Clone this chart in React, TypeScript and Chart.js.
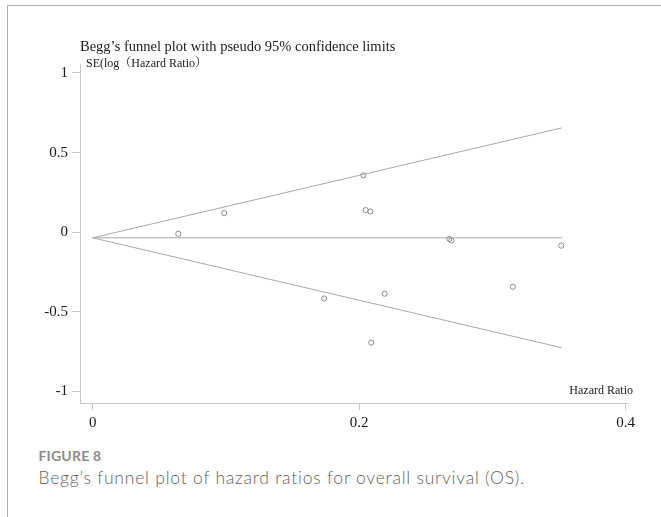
import React, { useEffect, useRef } from "react";
import { Chart, registerables } from "chart.js";

Chart.register(...registerables);

// ---- Data ----
const studyHR = [0.0643, 0.0987, 0.2031, 0.2049, 0.2084, 0.2677, 0.2692, 0.1738, 0.2191, 0.2091, 0.3517, 0.3153];
const studySE = [-0.01, 0.12, 0.357, 0.139, 0.13, -0.042, -0.052, -0.416, -0.386, -0.693, -0.084, -0.342];

const funnelX = [0, 0.352];
const upperLimit = [-0.035, 0.655];
const lowerLimit = [-0.035, -0.725];
const centerLine = [-0.035, -0.035];

const xTicks = [0, 0.2, 0.4];
const xTickLabels = ["0", "0.2", "0.4"];
const yTicks = [-1, -0.5, 0, 0.5, 1];
const yTickLabels = ["-1", "-0.5", "0", "0.5", "1"];

const titleText = "Begg\u2019s funnel plot with pseudo 95% confidence limits";
const yTitleText = "SE(log\uFF08Hazard Ratio\uFF09";
const xTitleText = "Hazard Ratio";
const figureLabel = "FIGURE 8";
const captionText = "Begg\u2019s funnel plot of hazard ratios for overall survival (OS).";

const SERIF = '"Liberation Serif", "Times New Roman", "Noto Serif CJK SC", "Noto Sans CJK SC", serif';

const textPlugin = {
  id: "plotTexts",
  afterDraw(chart: any) {
    const { ctx, chartArea } = chart;
    ctx.save();
    ctx.fillStyle = "#1a1a1a";
    ctx.textBaseline = "middle";
    ctx.textAlign = "left";
    ctx.font = `14.5px ${SERIF}`;
    ctx.fillText(titleText, chartArea.left, 47);
    ctx.font = `12px ${SERIF}`;
    ctx.fillText(yTitleText, chartArea.left + 6, 63.5);
    ctx.textAlign = "right";
    ctx.fillText(xTitleText, chartArea.right + 6, chartArea.bottom - 12);
    ctx.restore();
  },
};

export default function App() {
  const canvasRef = useRef<HTMLCanvasElement | null>(null);

  useEffect(() => {
    const canvas = canvasRef.current;
    if (!canvas) return;
    const lineStyle = {
      type: "line" as const,
      showLine: true,
      pointRadius: 0,
      borderColor: "#a8a8a8",
      borderWidth: 1,
      fill: false,
    };
    const chart = new Chart(canvas, {
      type: "scatter",
      data: {
        datasets: [
          { ...lineStyle, data: funnelX.map((x, i) => ({ x, y: upperLimit[i] })) },
          { ...lineStyle, data: funnelX.map((x, i) => ({ x, y: centerLine[i] })) },
          { ...lineStyle, data: funnelX.map((x, i) => ({ x, y: lowerLimit[i] })) },
          {
            type: "scatter",
            data: studyHR.map((x, i) => ({ x, y: studySE[i] })),
            pointRadius: 2.6,
            pointStyle: "circle",
            backgroundColor: "rgba(255,255,255,0)",
            borderColor: "#8a8a8a",
            borderWidth: 1,
          },
        ] as any,
      },
      options: {
        responsive: false,
        maintainAspectRatio: false,
        animation: false,
        layout: { padding: { top: 64, right: 34, bottom: 0, left: 0 } },
        plugins: {
          legend: { display: false },
          tooltip: { enabled: false },
          title: { display: false },
        },
        scales: {
          x: {
            type: "linear",
            min: -0.0095,
            max: 0.401,
            afterBuildTicks: (s: any) => {
              s.ticks = xTicks.map((v) => ({ value: v }));
            },
            afterFit: (s: any) => {
              s.height = 37;
            },
            grid: { drawOnChartArea: false, drawTicks: true, tickLength: 7, color: "#c8c8c8" },
            border: { color: "#c8c8c8" },
            ticks: {
              color: "#1a1a1a",
              font: { family: SERIF, size: 15 },
              padding: 4,
              maxRotation: 0,
              autoSkip: false,
              callback: (_v: any, i: number) => xTickLabels[i],
            },
          },
          y: {
            type: "linear",
            min: -1.072,
            max: 1.056,
            afterBuildTicks: (s: any) => {
              s.ticks = yTicks.map((v) => ({ value: v }));
            },
            afterFit: (s: any) => {
              s.width = 80;
            },
            grid: { drawOnChartArea: false, drawTicks: true, tickLength: 8, color: "#c8c8c8" },
            border: { color: "#c8c8c8" },
            ticks: {
              color: "#1a1a1a",
              font: { family: SERIF, size: 15 },
              padding: 4,
              autoSkip: false,
              callback: (_v: any, i: number) => yTickLabels[i],
            },
          },
        },
      } as any,
      plugins: [textPlugin],
    });
    return () => chart.destroy();
  }, []);

  return (
    <div style={{ position: "absolute", left: 0, top: 0, width: 661, height: 517, background: "#fff", overflow: "hidden" }}>
      <div
        style={{
          position: "absolute",
          left: 7,
          top: 5,
          right: 0,
          bottom: 0,
          borderTop: "1px solid #b0b0b0",
          borderLeft: "1px solid #b0b0b0",
        }}
      />
      <canvas
        ref={canvasRef}
        width={661}
        height={440}
        style={{ position: "absolute", left: 0, top: 0, width: 661, height: 440 }}
      />
      <div
        style={{
          position: "absolute",
          left: 38.5,
          top: 447,
          fontFamily: "Lato, 'Open Sans', sans-serif",
          fontWeight: 700,
          fontSize: 14,
          lineHeight: "18px",
          letterSpacing: "0.2px",
          color: "#8c8c8c",
          whiteSpace: "nowrap",
        }}
      >
        {figureLabel}
      </div>
      <div
        style={{
          position: "absolute",
          left: 38.5,
          top: 467,
          fontFamily: "Lato, 'Open Sans', sans-serif",
          fontWeight: 300,
          fontSize: 17.5,
          lineHeight: "22px",
          letterSpacing: "0.78px",
          color: "#5f5f5f",
          whiteSpace: "nowrap",
        }}
      >
        {captionText}
      </div>
    </div>
  );
}
